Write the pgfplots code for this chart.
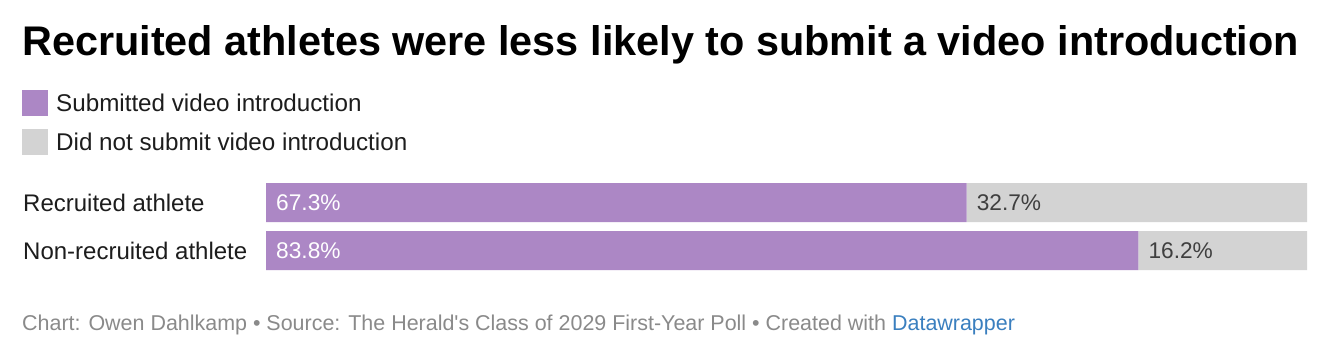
\documentclass[border=0pt]{standalone}
\usepackage{pgfplots}
\pgfplotsset{compat=1.18}
\usepackage{fontspec}
\setmainfont{Liberation Sans}
\newfontfamily\titlefont{Liberation Sans Bold}
\newfontfamily\bodyfont{Liberation Sans}
\definecolor{purp}{HTML}{AC87C5}
\definecolor{lgray}{HTML}{D3D3D3}
\definecolor{foot}{HTML}{8A8A8A}
\definecolor{dwblue}{HTML}{3A7FBF}
\definecolor{txt}{HTML}{1D1D1D}
\begin{document}
\begin{tikzpicture}
\path[use as bounding box, fill=white] (0,0) rectangle (1338bp,-360bp);
% title
\node[anchor=base west, inner sep=0pt, text=black] at (22bp,-55bp) {\titlefont\fontsize{41.4bp}{44bp}\selectfont Recruited athletes were less likely to submit a video introduction};
% legend
\fill[purp] (22bp,-90bp) rectangle (48bp,-116bp);
\fill[lgray] (22bp,-129bp) rectangle (48bp,-155bp);
\node[anchor=base west, inner sep=0pt, text=txt] at (56bp,-111bp) {\bodyfont\fontsize{24.2bp}{28bp}\selectfont Submitted video introduction};
\node[anchor=base west, inner sep=0pt, text=txt] at (56bp,-150bp) {\bodyfont\fontsize{24.2bp}{28bp}\selectfont Did not submit video introduction};
\begin{axis}[
  at={(266bp,-270bp)}, anchor=south west,
  scale only axis, width=1041bp, height=87bp,
  xbar stacked, bar width=0.8125,
  xmin=0, xmax=100,
  ymin=-0.40625, ymax=1.40625, y dir=reverse,
  axis lines=none,
  ytick=\empty, xtick=\empty,
  clip=false,
]
\addplot[fill=purp, draw=none] coordinates {(67.3,0) (83.8,1)};
\addplot[fill=lgray, draw=none] coordinates {(32.7,0) (16.2,1)};
\coordinate (a0) at (axis cs:0,0);
\coordinate (a1) at (axis cs:0,1);
\coordinate (b0) at (axis cs:67.3,0);
\coordinate (b1) at (axis cs:83.8,1);
\end{axis}
\node[anchor=base west, inner sep=0pt, text=white] at ([xshift=10bp,yshift=-8bp]a0) {\bodyfont\fontsize{22.7bp}{26bp}\selectfont 67.3\%};
\node[anchor=base west, inner sep=0pt, text=white] at ([xshift=10bp,yshift=-8bp]a1) {\bodyfont\fontsize{22.7bp}{26bp}\selectfont 83.8\%};
\node[anchor=base west, inner sep=0pt, text=txt!85] at ([xshift=10bp,yshift=-8bp]b0) {\bodyfont\fontsize{22.7bp}{26bp}\selectfont 32.7\%};
\node[anchor=base west, inner sep=0pt, text=txt!85] at ([xshift=10bp,yshift=-8bp]b1) {\bodyfont\fontsize{22.7bp}{26bp}\selectfont 16.2\%};
\node[anchor=base west, inner sep=0pt, text=txt] at ([xshift=-243bp,yshift=-8.5bp]a0) {\bodyfont\fontsize{24bp}{28bp}\selectfont Recruited athlete};
\node[anchor=base west, inner sep=0pt, text=txt] at ([xshift=-243bp,yshift=-8.5bp]a1) {\bodyfont\fontsize{24bp}{28bp}\selectfont Non-recruited athlete};
% footer
\node[anchor=base west, inner sep=0pt, text=foot] at (22bp,-330bp) {\bodyfont\fontsize{21.45bp}{24bp}\selectfont Chart: Owen Dahlkamp \textbullet{} Source: The Herald's Class of 2029 First-Year Poll \textbullet{} Created with \textcolor{dwblue}{Datawrapper}};
\end{tikzpicture}
\end{document}
